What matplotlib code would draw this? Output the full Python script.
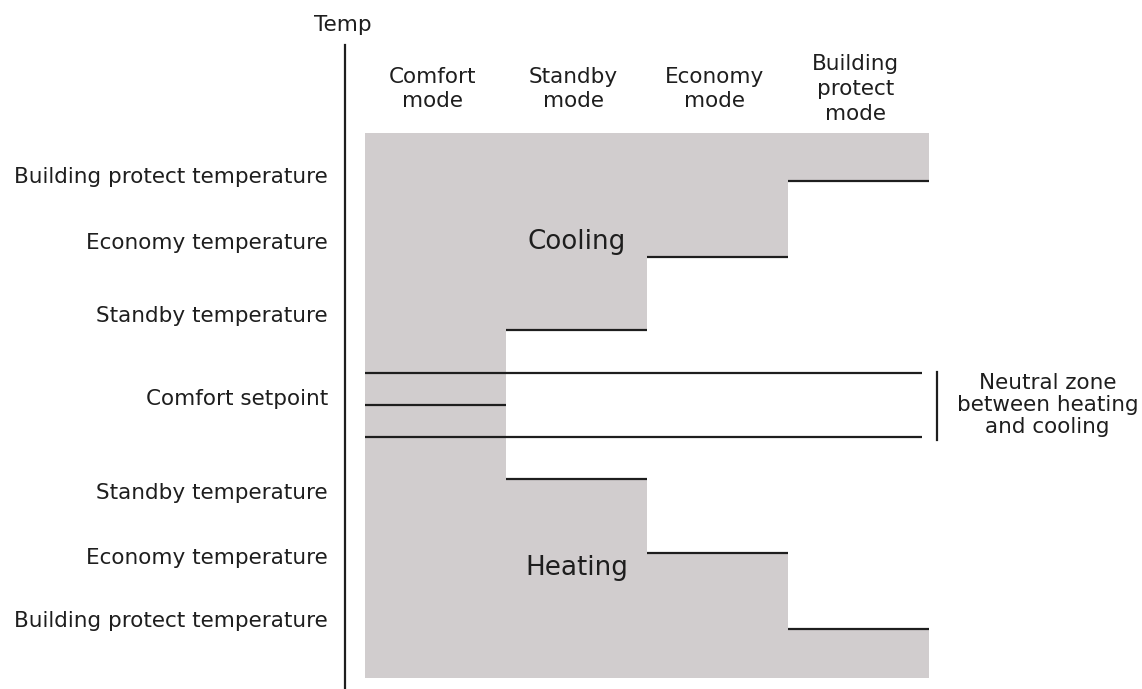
import matplotlib
matplotlib.use("Agg")
import matplotlib.pyplot as plt

# -------------------------------
# DATA (temperature offsets from the comfort setpoint, arbitrary units)
# -------------------------------
modes = ["Comfort\nmode", "Standby\nmode", "Economy\nmode", "Building\nprotect\nmode"]
cooling_levels = [3.2, 7.5, 14.8, 22.4]      # comfort = top of neutral zone
heating_levels = [-3.2, -7.4, -14.8, -22.4]  # comfort = bottom of neutral zone
setpoint = 0.0
range_top = 27.2
range_bottom = -27.3

level_labels = ["Building protect temperature", "Economy temperature",
                "Standby temperature", "Comfort setpoint",
                "Standby temperature", "Economy temperature",
                "Building protect temperature"]
label_pos = [22.8, 16.2, 8.9, 0.6, -8.8, -15.3, -21.6]

# -------------------------------
# STYLE
# -------------------------------
gray = "#d1cdce"
ink = "#1e1e1e"
fs = 15.5

fig = plt.figure(figsize=(11.42, 6.89), dpi=100)
ax = fig.add_axes([0, 0, 1, 1])
ax.set_xlim(-365 / 141, (1142 - 365) / 141)
ax.set_ylim(-28.4, 40.5)
ax.axis("off")

n = len(modes)

# -------------------------------
# GRAY HEATING / COOLING AREA
# -------------------------------
xs = [0, n]
ys = [range_top, range_top]
# cooling steps going left from building protect
for i in range(n - 1, 0, -1):
    xs += [i + 1, i]
    ys += [cooling_levels[i], cooling_levels[i]]
# heating steps going right
for i in range(1, n):
    xs += [i, i + 1]
    ys += [heating_levels[i], heating_levels[i]]
xs += [n, 0]
ys += [range_bottom, range_bottom]
ax.fill(xs, ys, color=gray, lw=0)

# -------------------------------
# LEVEL LINES
# -------------------------------
lw = 1.6
for i in range(1, n):
    ax.plot([i, i + 1], [cooling_levels[i]] * 2, color=ink, lw=lw, solid_capstyle="butt")
    ax.plot([i, i + 1], [heating_levels[i]] * 2, color=ink, lw=lw, solid_capstyle="butt")

neutral_end = 3.95
ax.plot([0, neutral_end], [cooling_levels[0]] * 2, color=ink, lw=lw, solid_capstyle="butt")
ax.plot([0, neutral_end], [heating_levels[0]] * 2, color=ink, lw=lw, solid_capstyle="butt")
ax.plot([0, 1], [setpoint] * 2, color=ink, lw=lw, solid_capstyle="butt")

# neutral zone bracket
ax.plot([4.057, 4.057], [cooling_levels[0] + 0.1, heating_levels[0] - 0.3], color=ink, lw=lw)
ax.text(4.84, 0, "Neutral zone\nbetween heating\nand cooling", ha="center", va="center",
        fontsize=fs, color=ink, linespacing=1.12)

# temperature axis
ax.plot([-0.142, -0.142], [36.0, -30], color=ink, lw=lw)
ax.text(-0.156, 38.0, "Temp", ha="center", va="center", fontsize=fs, color=ink)

# mode headers
for i, m in enumerate(modes):
    ax.text(i + 0.48, 31.6, m, ha="center", va="center", fontsize=fs, color=ink,
            linespacing=1.3)

# level labels
for lab, y in zip(level_labels, label_pos):
    ax.text(-0.262, y, lab, ha="right", va="center", fontsize=fs, color=ink)

ax.text(1.5, 16.3, "Cooling", ha="center", va="center", fontsize=18.8, color=ink)
ax.text(1.5, -16.3, "Heating", ha="center", va="center", fontsize=18.8, color=ink)

fig.savefig("out.png", dpi=100)
